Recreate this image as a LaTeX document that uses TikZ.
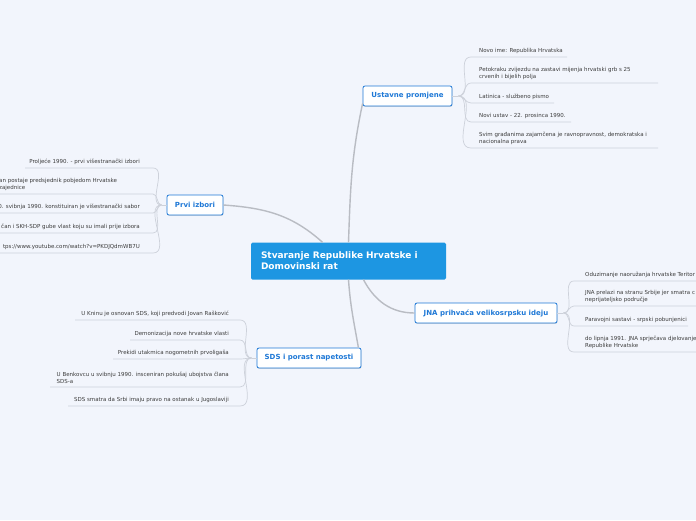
\documentclass[tikz,border=0pt]{standalone}
\usepackage{fontspec}
\setmainfont{DejaVu Sans}
\usetikzlibrary{positioning,shadows}

\definecolor{bgblue}{HTML}{F2F5FC}
\definecolor{rootblue}{HTML}{1D96E2}
\definecolor{topicblue}{HTML}{1E78D6}
\definecolor{branchgrey}{HTML}{B9BCC3}
\definecolor{twiggrey}{HTML}{CDD1DA}
\definecolor{leafgrey}{HTML}{3C3C3C}

\begin{document}
\begin{tikzpicture}[x=1pt,y=-1pt,
    root/.style={fill=rootblue,rounded corners=1.5pt,text=white,align=left,
      text width=175pt,inner xsep=10pt,minimum height=37pt,
      font=\fontsize{9}{11}\selectfont\bfseries},
    topic/.style={draw=topicblue,line width=0.8pt,fill=white,rounded corners=2pt,
      text=topicblue,minimum height=20pt,inner xsep=6pt,
      font=\fontsize{7}{8}\selectfont\bfseries,
      drop shadow={shadow xshift=0.4pt,shadow yshift=-0.9pt,opacity=0.25}},
    leaf/.style={text=leafgrey,inner sep=0pt,align=left,
      font=\fontsize{5.5}{7.5}\selectfont},
    branch/.style={draw=branchgrey,line width=1.4pt},
    twig/.style={draw=twiggrey,line width=0.7pt}]
  \useasboundingbox (0,0) rectangle (696,520);
  \fill[bgblue] (0,0) rectangle (696,520);
  \clip (0,0) rectangle (696,520);

  % main topics
  \node[root] (root) at (348.5,261) {Stvaranje Republike Hrvatske i\\Domovinski rat};
  \node[topic,minimum width=89pt] (ustav) at (407.5,96) {Ustavne promjene};
  \node[topic,minimum width=56pt] (prvi) at (195,205) {Prvi izbori};
  \node[topic,minimum width=142pt] (jna) at (486,313) {JNA prihvaća velikosrpsku ideju};
  \node[topic,minimum width=104pt] (sds) at (309,358) {SDS i porast napetosti};

  \draw[branch] (root.north) to[out=88,in=-102] ([yshift=3pt]ustav.south west);
  \draw[branch] (prvi.east) to[out=-4,in=138] ([xshift=-26pt]root.north);
  \draw[branch] ([xshift=15pt]root.south) to[out=-62,in=180] (jna.west);
  \draw[branch] (root.south) to[out=-86,in=100] ([xshift=-3pt]sds.north east);

  % hubs where the twigs meet
  \coordinate (uhub) at ([xshift=6pt]ustav.east);
  \coordinate (phub) at ([xshift=-5pt]prvi.west);
  \coordinate (jhub) at ([xshift=6pt]jna.east);
  \coordinate (shub) at ([xshift=-5pt]sds.west);

  % Ustavne promjene
  \coordinate (u1) at (471,57);  \coordinate (u1e) at (567,57);
  \coordinate (u2) at (471,83);  \coordinate (u2e) at (658,83);
  \coordinate (u3) at (471,103); \coordinate (u3e) at (554,103);
  \coordinate (u4) at (471,122); \coordinate (u4e) at (571,122);
  \coordinate (u5) at (471,148); \coordinate (u5e) at (658,148);
  \node[leaf,anchor=south west] (ut1) at (479,54) {Novo ime: Republika Hrvatska};
  \node[leaf,anchor=south west] (ut2) at (479,80) {Petokraku zvijezdu na zastavi mijenja hrvatski grb s 25\\crvenih i bijelih polja};
  \node[leaf,anchor=south west] (ut3) at (479,100) {Latinica - službeno pismo};
  \node[leaf,anchor=south west] (ut4) at (479,119) {Novi ustav - 22. prosinca 1990.};
  \node[leaf,anchor=south west] (ut5) at (479,145) {Svim građanima zajamčena je ravnopravnost, demokratska i\\nacionalna prava};
  \draw[twig] (ustav.east) -- (uhub);
  \draw[twig] (uhub) to[out=0,in=180] (u1) -- (u1e);
  \draw[twig] (uhub) to[out=0,in=180] (u2) -- (u2e);
  \draw[twig] (uhub) to[out=0,in=180] (u3) -- (u3e);
  \draw[twig] (uhub) to[out=0,in=180] (u4) -- (u4e);
  \draw[twig] (uhub) to[out=0,in=180] (u5) -- (u5e);

  % Prvi izbori
  \coordinate (p1) at (153,168); \coordinate (p1e) at (25,168);
  \coordinate (p2) at (153,194); \coordinate (p2e) at (-5,194);
  \coordinate (p3) at (153,213); \coordinate (p3e) at (-5,213);
  \coordinate (p4) at (153,233); \coordinate (p4e) at (-5,233);
  \coordinate (p5) at (153,253); \coordinate (p5e) at (-5,253);
  \node[leaf,anchor=south east] (pt1) at (140,165) {Proljeće 1990. - prvi višestranački izbori};
  \node[leaf,anchor=south west] (pt2) at (-1,191) {an postaje predsjednik pobjedom Hrvatske\\zajednice};
  \node[leaf,anchor=south east] (pt3) at (140,210) {0. svibnja 1990. konstituiran je višestranački sabor};
  \node[leaf,anchor=south east] (pt4) at (140,230) {čan i SKH-SDP gube vlast koju su imali prije izbora};
  \node[leaf,anchor=south east] (pt5) at (140,250) {tps://www.youtube.com/watch?v=PKDJQdmWB7U};
  \draw[twig] (prvi.west) -- (phub);
  \draw[twig] (phub) to[out=180,in=0] (p1) -- (p1e);
  \draw[twig] (phub) to[out=180,in=0] (p2) -- (p2e);
  \draw[twig] (phub) to[out=180,in=0] (p3) -- (p3e);
  \draw[twig] (phub) to[out=180,in=0] (p4) -- (p4e);
  \draw[twig] (phub) to[out=180,in=0] (p5) -- (p5e);

  % JNA
  \coordinate (j1) at (574,281); \coordinate (j1e) at (700,281);
  \coordinate (j2) at (574,306); \coordinate (j2e) at (700,306);
  \coordinate (j3) at (574,326); \coordinate (j3e) at (688,326);
  \coordinate (j4) at (574,352); \coordinate (j4e) at (700,352);
  \node[leaf,anchor=south west] (jt1) at (585,278) {Oduzimanje naoružanja hrvatske Teritor};
  \node[leaf,anchor=south west] (jt2) at (585,303) {JNA prelazi na stranu Srbije jer smatra c\\neprijateljsko područje};
  \node[leaf,anchor=south west] (jt3) at (585,323) {Paravojni sastavi - srpski pobunjenici};
  \node[leaf,anchor=south west] (jt4) at (585,349) {do lipnja 1991. JNA sprječava djelovanje\\Republike Hrvatske};
  \draw[twig] (jna.east) -- (jhub);
  \draw[twig] (jhub) to[out=0,in=180] (j1) -- (j1e);
  \draw[twig] (jhub) to[out=0,in=180] (j2) -- (j2e);
  \draw[twig] (jhub) to[out=0,in=180] (j3) -- (j3e);
  \draw[twig] (jhub) to[out=0,in=180] (j4) -- (j4e);

  % SDS
  \coordinate (s1) at (240,320); \coordinate (s1e) at (75,320);
  \coordinate (s2) at (240,340); \coordinate (s2e) at (130,340);
  \coordinate (s3) at (240,359); \coordinate (s3e) at (113,359);
  \coordinate (s4) at (240,387); \coordinate (s4e) at (50,387);
  \coordinate (s5) at (240,406); \coordinate (s5e) at (68,406);
  \node[leaf,anchor=south east] (st1) at (229,317) {U Kninu je osnovan SDS, koji predvodi Jovan Rašković};
  \node[leaf,anchor=south east] (st2) at (229,337) {Demonizacija nove hrvatske vlasti};
  \node[leaf,anchor=south east] (st3) at (229,356) {Prekidi utakmica nogometnih prvoligaša};
  \node[leaf,anchor=south east] (st4) at (229,384) {U Benkovcu u svibnju 1990. insceniran pokušaj ubojstva člana\\SDS-a};
  \node[leaf,anchor=south east] (st5) at (229,403) {SDS smatra da Srbi imaju pravo na ostanak u Jugoslaviji};
  \draw[twig] (sds.west) -- (shub);
  \draw[twig] (shub) to[out=180,in=0] (s1) -- (s1e);
  \draw[twig] (shub) to[out=180,in=0] (s2) -- (s2e);
  \draw[twig] (shub) to[out=180,in=0] (s3) -- (s3e);
  \draw[twig] (shub) to[out=180,in=0] (s4) -- (s4e);
  \draw[twig] (shub) to[out=180,in=0] (s5) -- (s5e);
\end{tikzpicture}
\end{document}
